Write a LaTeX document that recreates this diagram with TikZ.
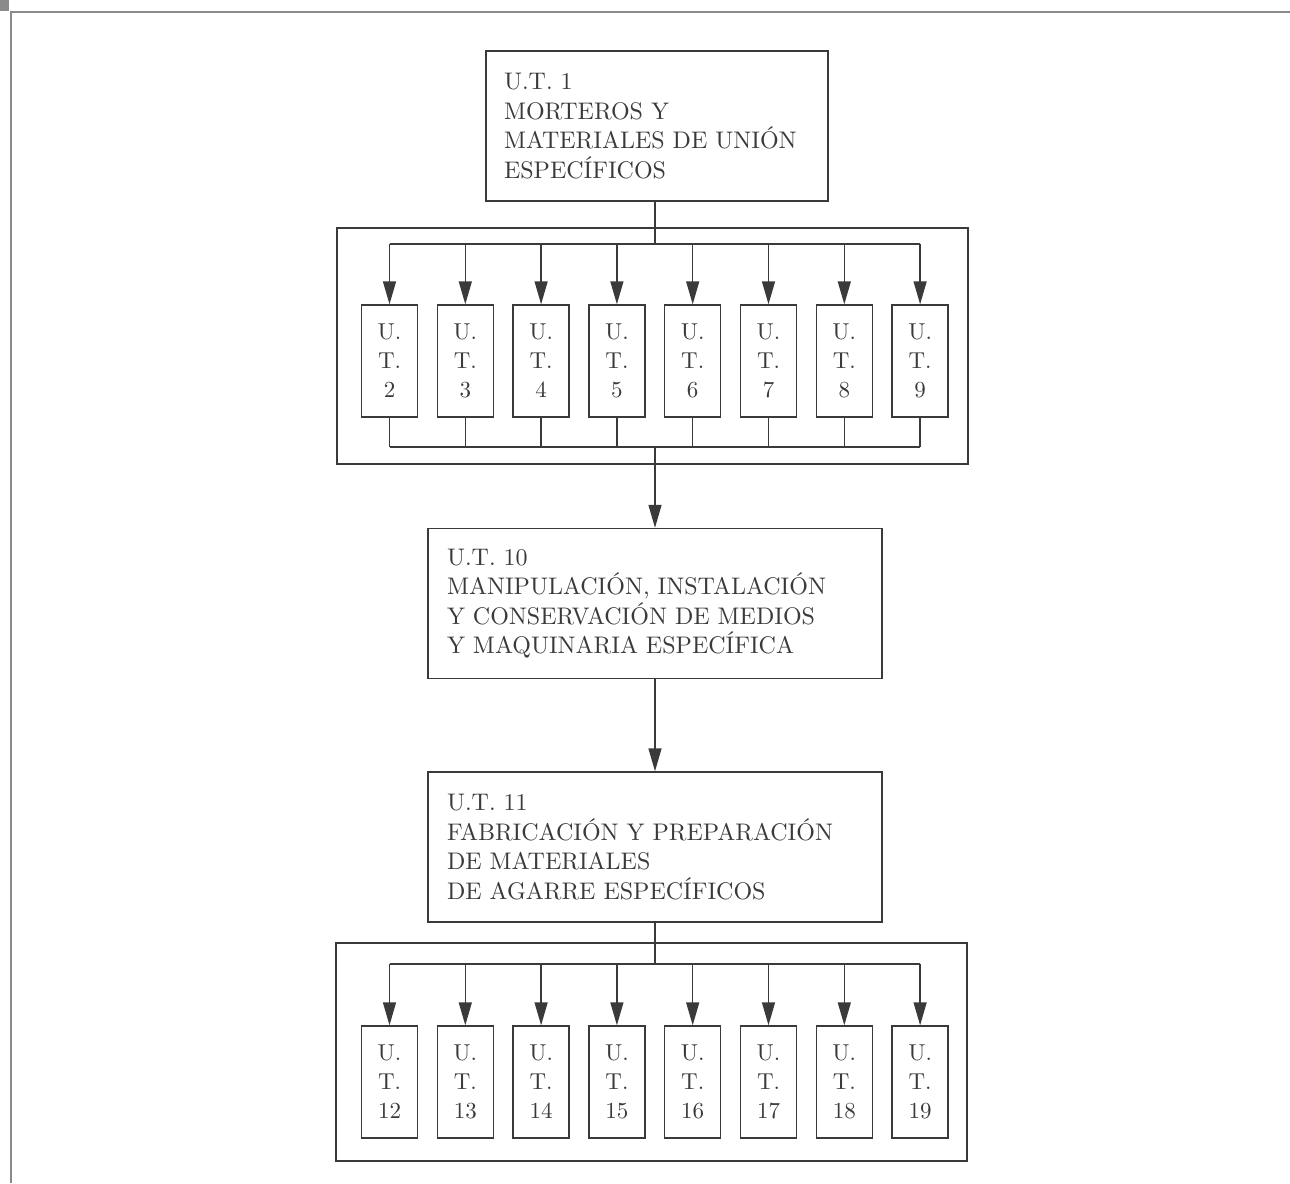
\documentclass[tikz,border=0pt]{standalone}
\usepackage{fontspec}
\newfontfamily\lmten{lmroman10-regular.otf}
\usetikzlibrary{arrows.meta}
\definecolor{ink}{HTML}{3A3A3A}
\definecolor{frame}{HTML}{8A8A8A}
\begin{document}
\begin{tikzpicture}[x=1pt,y=-1pt,
  every node/.style={text=ink},
  line/.style={draw=ink,line width=1.4pt},
  arr/.style={line,-{Triangle[length=23pt,width=13pt]}},
  bigbox/.style={line,align=left,inner xsep=18pt,inner ysep=0pt,
    font=\lmten\fontsize{24}{29.5}\selectfont},
  smallbox/.style={line,align=center,minimum width=56pt,minimum height=112pt,
    inner sep=0pt,font=\lmten\fontsize{23}{29}\selectfont},
  group/.style={line,inner sep=0pt}]
\useasboundingbox (0,0) rectangle (1290,1183);
% page frame
\fill[frame] (0,0) rectangle (9,11);
\draw[frame,line width=1.6pt] (11,1183) -- (11,12) -- (1290,12);

% groups
\node[group,minimum width=631pt,minimum height=236pt] (g1) at (652.5,346) {};
\node[group,minimum width=631pt,minimum height=218pt] (g2) at (651.5,1052) {};

% big boxes
\node[bigbox,text width=306pt,minimum height=150pt] (u1) at (657,126)
  {U.T. 1\\MORTEROS Y\\MATERIALES DE UNIÓN\\ESPECÍFICOS};
\node[bigbox,text width=416pt,inner xsep=19pt,minimum height=150pt] (u10) at (655,603.5)
  {U.T. 10\\MANIPULACIÓN, INSTALACIÓN\\Y CONSERVACIÓN DE MEDIOS\\Y MAQUINARIA ESPECÍFICA};
\node[bigbox,text width=416pt,inner xsep=19pt,minimum height=150pt] (u11) at (655,847)
  {U.T. 11\\FABRICACIÓN Y PREPARACIÓN\\DE MATERIALES\\DE AGARRE ESPECÍFICOS};

% small boxes
\foreach \i in {0,...,7} {
  \pgfmathtruncatemacro\na{\i+2}
  \pgfmathtruncatemacro\nb{\i+12}
  \node[smallbox] (s\na) at ({389.5+75.8*\i},361) {U.\\T.\\\na};
  \node[smallbox] (s\nb) at ({389.5+75.8*\i},1082) {U.\\T.\\\nb};
}

% junction coordinates
\coordinate (d1) at (655,244);
\coordinate (c1) at (655,447);
\coordinate (d2) at (655,964);

% group 1 distribution
\draw[line] (u1.south -| d1) -- (d1);
\draw[line] (s2.north |- d1) -- (s9.north |- d1);
\foreach \n in {2,...,9} {
  \draw[arr] (s\n.north |- d1) -- (s\n.north);
  \draw[line] (s\n.south) -- (s\n.south |- c1);
}
\draw[line] (s2.south |- c1) -- (s9.south |- c1);
\draw[arr] (c1) -- (u10.north);
\draw[arr] (u10.south) -- (u11.north);

% group 2 distribution
\draw[line] (u11.south -| d2) -- (d2);
\draw[line] (s12.north |- d2) -- (s19.north |- d2);
\foreach \n in {12,...,19} {
  \draw[arr] (s\n.north |- d2) -- (s\n.north);
}
\end{tikzpicture}
\end{document}
